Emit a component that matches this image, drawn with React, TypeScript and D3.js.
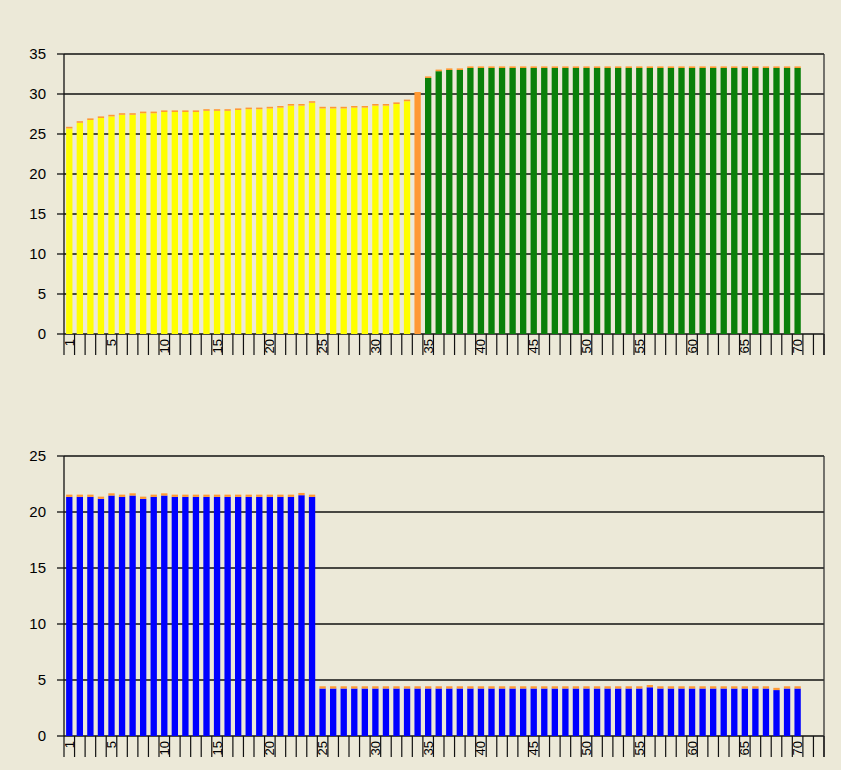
import * as d3 from "d3";

// categories on both charts (72 slots, bars on 1..70)
const categories = d3.range(1, 73);
const labelledCats = [1, 5, 10, 15, 20, 25, 30, 35, 40, 45, 50, 55, 60, 65, 70];

// top chart
const yellowValues = [
  25.7, 26.4, 26.75, 27.0, 27.2, 27.4, 27.4, 27.6, 27.6, 27.75, 27.75, 27.75, 27.75, 27.9, 27.9,
  27.9, 28.0, 28.1, 28.1, 28.2, 28.3, 28.55, 28.55, 28.9, 28.2, 28.2, 28.2, 28.3, 28.3, 28.55,
  28.55, 28.75, 29.1,
];
const orangeValues = [30.25];
const greenValues = [
  32.0, 32.85, 33.0, 33.0, 33.25, 33.25, 33.25, 33.25, 33.25, 33.25, 33.25, 33.25, 33.25, 33.25,
  33.25, 33.25, 33.25, 33.25, 33.25, 33.25, 33.25, 33.25, 33.25, 33.25, 33.25, 33.25, 33.25, 33.25,
  33.25, 33.25, 33.25, 33.25, 33.25, 33.25, 33.25, 33.25,
];
const topTicks = [0, 5, 10, 15, 20, 25, 30, 35];

// bottom chart
const blueValues = [
  // 1..24
  21.35, 21.35, 21.35, 21.17, 21.47, 21.35, 21.47, 21.17, 21.35, 21.47, 21.35, 21.35,
  21.35, 21.35, 21.35, 21.35, 21.35, 21.35, 21.35, 21.35, 21.35, 21.35, 21.5, 21.35,
  // 25..40
  4.24, 4.24, 4.24, 4.24, 4.24, 4.24, 4.24, 4.24, 4.24, 4.24, 4.24, 4.24, 4.24, 4.24, 4.24, 4.24,
  // 41..55
  4.24, 4.24, 4.24, 4.24, 4.24, 4.24, 4.24, 4.24, 4.24, 4.24, 4.24, 4.24, 4.24, 4.24, 4.24,
  // 56..70
  4.35, 4.24, 4.24, 4.24, 4.24, 4.24, 4.24, 4.24, 4.24, 4.24, 4.24, 4.24, 4.1, 4.24, 4.24,
];
const bottomTicks = [0, 5, 10, 15, 20, 25];

// small orange cap stacked on every bar
const capValue = 0.2;

interface Bar {
  cat: number;
  value: number;
  color: string;
  cap: boolean;
}

const topBars: Bar[] = [
  ...yellowValues.map((v, i) => ({ cat: i + 1, value: v, color: "#FFFF00", cap: true })),
  ...orangeValues.map((v, i) => ({ cat: i + 34, value: v, color: "#FF9933", cap: false })),
  ...greenValues.map((v, i) => ({ cat: i + 35, value: v, color: "#0A800A", cap: true })),
];
const bottomBars: Bar[] = blueValues.map((v, i) => ({ cat: i + 1, value: v, color: "#0000FF", cap: true }));

const left = 64;
const right = 824;

function Chart({ bars, ticks, max, top, bottom }: { bars: Bar[]; ticks: number[]; max: number; top: number; bottom: number }) {
  const x = d3.scaleBand<number>().domain(categories).range([left, right]).paddingInner(0.4).paddingOuter(0.2);
  const y = d3.scaleLinear().domain([0, max]).range([bottom, top]);
  const step = x.step();
  const half = (step - x.bandwidth()) / 2;
  const catTicks = [...categories.map((c) => (x(c) as number) - half), right];

  return (
    <g>
      {ticks.map((t) => (
        <g key={`y-${t}`}>
          <line x1={left} x2={right} y1={y(t)} y2={y(t)} stroke="#111" strokeWidth={1.3} />
          <line x1={left - 7} x2={left} y1={y(t)} y2={y(t)} stroke="#111" strokeWidth={1.3} />
          <text x={46} y={y(t)} dy="0.36em" textAnchor="end" fontSize={15} fontFamily="Liberation Sans, Arial, sans-serif" fill="#000">
            {t}
          </text>
        </g>
      ))}
      {bars.map((b) => (
        <g key={`bar-${b.cat}`}>
          <rect x={x(b.cat)} width={x.bandwidth()} y={y(b.value)} height={y(0) - y(b.value)} fill={b.color} />
          {b.cap && (
            <rect x={x(b.cat)} width={x.bandwidth()} y={y(b.value + capValue)} height={y(b.value) - y(b.value + capValue)} fill="#FF9933" />
          )}
        </g>
      ))}
      <line x1={left} x2={left} y1={top} y2={bottom} stroke="#111" strokeWidth={1.3} />
      <line x1={right} x2={right} y1={top} y2={bottom + 21} stroke="#333" strokeWidth={1.3} />
      {catTicks.map((tx, i) => (
        <line key={`xt-${i}`} x1={tx} x2={tx} y1={bottom} y2={bottom + 21} stroke="#111" strokeWidth={1.2} />
      ))}
      {labelledCats.map((c) => {
        const cx = (x(c) as number) + x.bandwidth() / 2;
        const ly = bottom + 5;
        return (
          <text
            key={`xl-${c}`}
            transform={`translate(${cx},${ly}) rotate(-90)`}
            textAnchor="end"
            dominantBaseline="central"
            fontSize={13}
            fontFamily="Liberation Sans, Arial, sans-serif"
            fill="#000"
          >
            {c}
          </text>
        );
      })}
    </g>
  );
}

export default function App() {
  return (
    <svg width={841} height={770} style={{ position: "absolute", left: 0, top: 0, display: "block" }}>
      <rect width={841} height={770} fill="#ECE9D8" />
      <Chart bars={topBars} ticks={topTicks} max={35} top={54} bottom={334} />
      <Chart bars={bottomBars} ticks={bottomTicks} max={25} top={456} bottom={736} />
    </svg>
  );
}
